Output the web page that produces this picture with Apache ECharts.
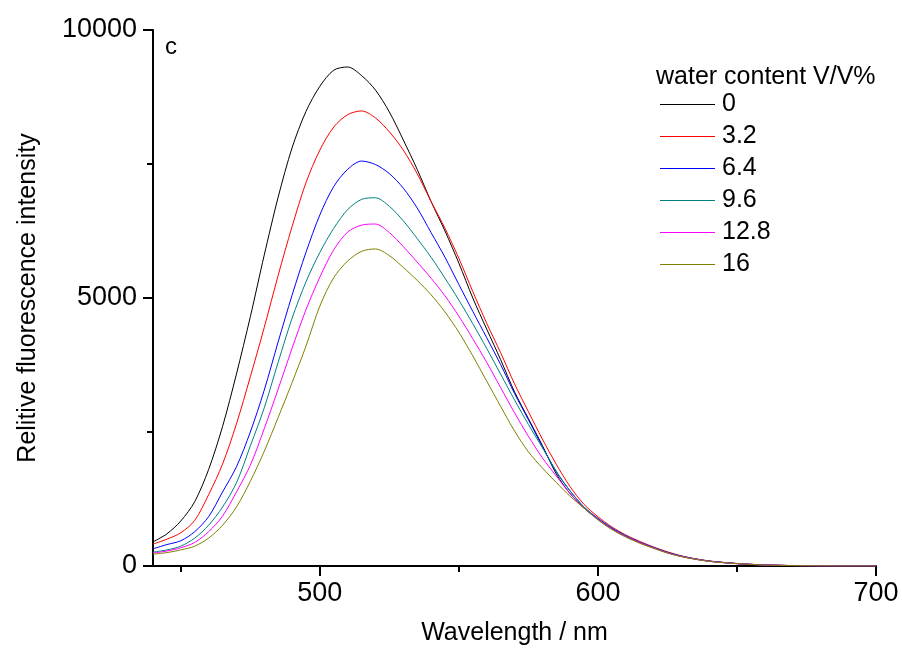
<!DOCTYPE html>
<html>
<head>
<meta charset="utf-8">
<script src="https://cdn.jsdelivr.net/npm/echarts@6/dist/echarts.min.js"></script>
<style>
  html, body { margin: 0; padding: 0; background: #fff; }
  #chart { width: 902px; height: 648px; }
</style>
</head>
<body>
<div id="chart"></div>
<script>
// wavelength grid, nm
const wavelengths = [
  440, 445, 450, 455, 460, 465, 470, 475, 480, 485,
  490, 495, 500, 505, 510, 515, 520, 525, 530, 535,
  540, 545, 550, 555, 560, 565, 570, 575, 580, 585,
  590, 595, 600, 605, 610, 615, 620, 625, 630, 635,
  640, 645, 650, 655, 660, 665, 670, 675, 680, 685,
  690, 695, 700
]
const waterContents = ['0', '3.2', '6.4', '9.6', '12.8', '16']
const lineColors = ['#000000', '#ff0000', '#0000ff', '#008080', '#ff00ff', '#808000']

// intensities
const water0 = [
  450, 600, 840, 1200, 1800, 2600, 3580, 4650, 5800, 6880,
  7800, 8480, 8950, 9250, 9310, 9150, 8880, 8470, 7950, 7400,
  6800, 6250, 5650, 5000, 4420, 3850, 3250, 2750, 2250, 1720,
  1350, 1080, 880, 700, 560, 440, 340, 250, 180, 130,
  90, 65, 45, 30, 20, 12, 8, 5, 3, 2,
  1, 1, 0
]
const water32 = [
  410, 500, 620, 850, 1330, 1900, 2650, 3530, 4450, 5420,
  6330, 7150, 7760, 8190, 8420, 8490, 8360, 8100, 7760, 7320,
  6800, 6300, 5740, 5120, 4530, 3980, 3400, 2880, 2370, 1900,
  1480, 1150, 920, 730, 580, 460, 355, 265, 190, 135,
  95, 68, 47, 32, 22, 14, 9, 6, 4, 2,
  1, 1, 0
]
const water64 = [
  320, 400, 470, 640, 920, 1380, 1850, 2500, 3280, 4180,
  5050, 5850, 6550, 7080, 7400, 7555, 7490, 7320, 7050, 6680,
  6220, 5760, 5250, 4750, 4260, 3760, 3220, 2730, 2230, 1760,
  1400, 1100, 890, 710, 565, 445, 345, 255, 185, 132,
  92, 66, 46, 31, 21, 13, 8, 5, 3, 2,
  1, 1, 0
]
const water96 = [
  260, 300, 370, 520, 760, 1100, 1550, 2240, 2950, 3800,
  4620, 5300, 5850, 6300, 6650, 6840, 6870, 6710, 6440, 6110,
  5760, 5370, 4960, 4520, 4060, 3580, 3100, 2640, 2210, 1770,
  1400, 1100, 880, 700, 560, 440, 340, 250, 180, 130,
  90, 65, 45, 30, 20, 12, 8, 5, 3, 2,
  1, 1, 0
]
const water128 = [
  240, 280, 340, 440, 640, 930, 1380, 1880, 2560, 3300,
  4060, 4780, 5390, 5900, 6230, 6360, 6380, 6220, 5960, 5670,
  5370, 5040, 4660, 4240, 3800, 3330, 2860, 2420, 2020, 1680,
  1350, 1080, 870, 690, 550, 435, 335, 245, 178, 128,
  88, 63, 44, 29, 19, 12, 8, 5, 3, 2,
  1, 1, 0
]
const water16 = [
  220, 250, 300, 370, 520, 760, 1100, 1580, 2140, 2770,
  3420, 4100, 4850, 5380, 5690, 5870, 5915, 5790, 5570, 5330,
  5060, 4740, 4360, 3920, 3450, 2980, 2520, 2130, 1830, 1560,
  1300, 1080, 860, 680, 540, 425, 330, 240, 175, 125,
  86, 62, 43, 29, 19, 12, 8, 5, 3, 2,
  1, 1, 0
]
const intensities = [water0, water32, water64, water96, water128, water16]

const xMajorTicks = [500, 600, 700]
const xMinorTicks = [450, 550, 650]

const fontFamily = '"Liberation Sans", Arial, sans-serif'

const chart = echarts.init(document.getElementById('chart'))

const series = waterContents.map((name, i) => ({
  name,
  type: 'line',
  xAxisIndex: 0,
  yAxisIndex: 0,
  showSymbol: false,
  symbol: 'none',
  smooth: 0.3,
  lineStyle: { color: lineColors[i], width: 1 },
  itemStyle: { color: lineColors[i] },
  data: wavelengths.map((w, k) => [w, intensities[i][k]]),
}))

chart.setOption({
  animation: false,
  backgroundColor: '#fff',
  grid: { left: 153, right: 26, top: 30, bottom: 82, containLabel: false, outerBoundsMode: 'none' },
  title: [
    {
      text: 'c',
      left: 160,
      top: 30,
      textStyle: { fontFamily, fontSize: 24, fontWeight: 'normal', color: '#000' },
    },
    {
      text: 'water content V/V%',
      left: 651,
      top: 60,
      textStyle: { fontFamily, fontSize: 25, fontWeight: 'normal', color: '#000' },
    },
  ],
  legend: {
    orient: 'vertical',
    left: 655,
    top: 87,
    itemWidth: 55,
    itemHeight: 1,
    itemGap: 7,
    icon: 'rect',
    itemStyle: { borderWidth: 0 },
    textStyle: { fontFamily, fontSize: 25, color: '#000', padding: [0, 0, 0, 2] },
    data: waterContents,
  },
  xAxis: [
    {
      type: 'value',
      min: 440,
      max: 700,
      name: 'Wavelength / nm',
      nameLocation: 'middle',
      nameGap: 55,
      nameTextStyle: { fontFamily, fontSize: 25, color: '#000' },
      axisLine: { lineStyle: { color: '#000', width: 2 } },
      axisTick: { customValues: xMajorTicks, length: 10, lineStyle: { color: '#000', width: 2 } },
      axisLabel: { customValues: xMajorTicks, fontFamily, fontSize: 27, color: '#000', margin: 14 },
      splitLine: { show: false },
    },
    {
      type: 'value',
      min: 440,
      max: 700,
      position: 'bottom',
      axisLine: { show: false },
      axisTick: { customValues: xMinorTicks, length: 6, lineStyle: { color: '#000', width: 2 } },
      axisLabel: { show: false },
      splitLine: { show: false },
    },
  ],
  yAxis: {
    type: 'value',
    min: 0,
    max: 10000,
    interval: 5000,
    name: 'Relitive fluorescence intensity',
    nameLocation: 'middle',
    nameGap: 112,
    nameTextStyle: { fontFamily, fontSize: 25, color: '#000' },
    axisLine: { show: true, lineStyle: { color: '#000', width: 2 } },
    axisTick: { show: true, length: 10, lineStyle: { color: '#000', width: 2 } },
    minorTick: { show: true, splitNumber: 2, length: 6, lineStyle: { color: '#000', width: 2 } },
    axisLabel: { fontFamily, fontSize: 27, color: '#000', margin: 16, formatter: v => String(v) },
    splitLine: { show: false },
  },
  series,
})
</script>
</body>
</html>
